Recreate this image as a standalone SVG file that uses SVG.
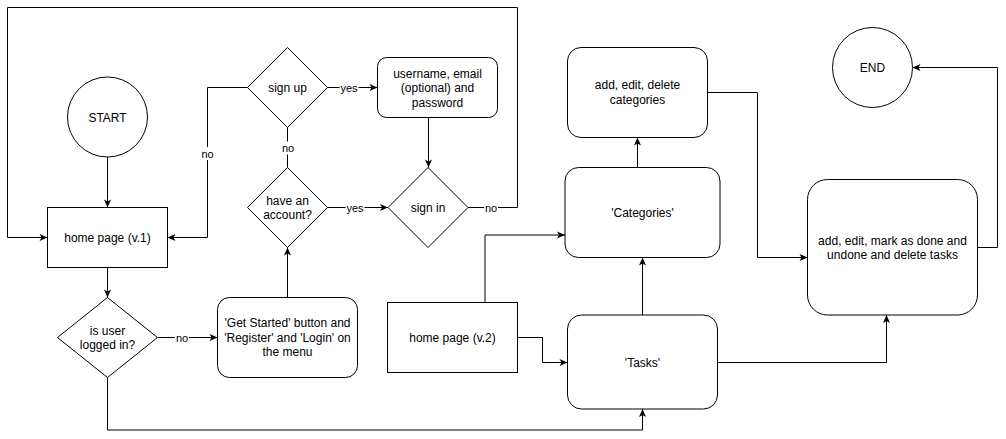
<svg xmlns="http://www.w3.org/2000/svg" width="1006" height="439" viewBox="0 0 1006 439">
<style>
.n{fill:#fff;stroke:#000;stroke-width:1}
.t{font-family:"Liberation Sans",Arial,Helvetica,sans-serif;font-size:12px;fill:#000;text-anchor:middle}
.lt{font-family:"Liberation Sans",Arial,Helvetica,sans-serif;font-size:11px;fill:#000;text-anchor:middle}
.c{fill:none;stroke:#000;stroke-width:1}
.a{marker-end:url(#arr)}
.lb{fill:#fff;stroke:none}
</style>
<defs>
<marker id="arr" markerUnits="userSpaceOnUse" markerWidth="10" markerHeight="10" viewBox="0 0 10 10" refX="10" refY="5" orient="auto">
<path d="M2,1.5 L10,5 L2,8.5 L4,5 Z" fill="#000"/>
</marker>
</defs>
<rect x="0" y="0" width="1006" height="439" fill="#fff"/>

<g id="connectors">
<path class="c a" d="M468,207.5 H517.5 V7.5 H7.5 V237.5 H47.5"/>
<path class="c a" d="M247.5,87.5 H207.5 V237.5 H167.5"/>
<path class="c a" d="M327.5,87.5 H377.5"/>
<path class="c a" d="M428.5,117.5 V167.5"/>
<path class="c" d="M287.5,127.5 V167.5"/>
<path class="c a" d="M327.5,207.5 H388"/>
<path class="c a" d="M107.5,157 V207.5"/>
<path class="c a" d="M107.5,267.5 V297.5"/>
<path class="c a" d="M157.5,337.5 H217.5"/>
<path class="c a" d="M287.5,297.5 V247.5"/>
<path class="c a" d="M107.5,377.5 V430 H642.5 V409"/>
<path class="c a" d="M485,302.5 V235 H565"/>
<path class="c a" d="M517.5,337.5 H542.5 V362.5 H567.5"/>
<path class="c a" d="M642.5,315 V257.5"/>
<path class="c a" d="M637.5,167.5 V137.5"/>
<path class="c a" d="M707.5,92.5 H757.5 V257.5 H807.5"/>
<path class="c a" d="M717.5,362.5 H886.5 V315"/>
<path class="c a" d="M977.5,247.5 H997.5 V67.5 H912.5"/>
<g id="edge-labels">
<rect class="lb" x="484" y="201" width="14" height="13"/>
<text class="lt" x="491" y="211.5">no</text>
<rect class="lb" x="200.5" y="147" width="14" height="13"/>
<text class="lt" x="207.5" y="157.5">no</text>
<rect class="lb" x="339.5" y="81" width="19" height="13"/>
<text class="lt" x="349" y="91.5">yes</text>
<rect class="lb" x="281" y="141.5" width="14" height="13"/>
<text class="lt" x="288" y="152">no</text>
<rect class="lb" x="345.5" y="201" width="19" height="13"/>
<text class="lt" x="355" y="211.5">yes</text>
<rect class="lb" x="175" y="331" width="14" height="13"/>
<text class="lt" x="182" y="341.5">no</text>
</g>
</g>

<g id="start">
<circle class="n" cx="107.5" cy="117" r="40"/>
<text class="t" x="107.5" y="121.5">START</text>
</g>
<g id="home-v1">
<rect class="n" x="47.5" y="207.5" width="120" height="60"/>
<text class="t" x="107.5" y="241.5">home page (v.1)</text>
</g>
<g id="sign-up">
<polygon class="n" points="287.5,47.5 327.5,87.5 287.5,127.5 247.5,87.5"/>
<text class="t" x="287.5" y="91.5">sign up</text>
</g>
<g id="username">
<rect class="n" x="377.5" y="57.5" width="120" height="60" rx="9" ry="9"/>
<text class="t" x="437.5" y="77.5">username, email</text>
<text class="t" x="437.5" y="92">(optional) and</text>
<text class="t" x="437.5" y="106.5">password</text>
</g>
<g id="sign-in">
<polygon class="n" points="428,167.5 468,207.5 428,247.5 388,207.5"/>
<text class="t" x="428" y="211.5">sign in</text>
</g>
<g id="have-account">
<polygon class="n" points="287.5,167.5 327.5,207.5 287.5,247.5 247.5,207.5"/>
<text class="t" x="287.5" y="204.5">have an</text>
<text class="t" x="287.5" y="219">account?</text>
</g>
<g id="logged-in">
<polygon class="n" points="107.5,297.5 157.5,337.5 107.5,377.5 57.5,337.5"/>
<text class="t" x="107.5" y="334.5">is user</text>
<text class="t" x="107.5" y="349">logged in?</text>
</g>
<g id="get-started">
<rect class="n" x="217.5" y="297.5" width="140" height="80" rx="12" ry="12"/>
<text class="t" x="287.5" y="327">'Get Started' button and</text>
<text class="t" x="287.5" y="341.5">'Register' and 'Login' on</text>
<text class="t" x="287.5" y="356">the menu</text>
</g>
<g id="home-v2">
<rect class="n" x="387.5" y="302.5" width="130" height="70"/>
<text class="t" x="452.5" y="341.5">home page (v.2)</text>
</g>
<g id="categories-actions">
<rect class="n" x="567.5" y="47.5" width="140" height="90" rx="13.5" ry="13.5"/>
<text class="t" x="637.5" y="89">add, edit, delete</text>
<text class="t" x="637.5" y="104">categories</text>
</g>
<g id="categories">
<rect class="n" x="565" y="167.5" width="155" height="90" rx="13.5" ry="13.5"/>
<text class="t" x="642.5" y="216.5">'Categories'</text>
</g>
<g id="tasks">
<rect class="n" x="567.5" y="315" width="150" height="94" rx="14" ry="14"/>
<text class="t" x="642.5" y="366.5">'Tasks'</text>
</g>
<g id="tasks-actions">
<rect class="n" x="807.5" y="179.5" width="170" height="135.5" rx="20" ry="20"/>
<text class="t" x="892.5" y="244.5">add, edit, mark as done and</text>
<text class="t" x="892.5" y="259">undone and delete tasks</text>
</g>
<g id="end">
<circle class="n" cx="872.5" cy="67.5" r="40"/>
<text class="t" x="872.5" y="72">END</text>
</g>
</svg>
